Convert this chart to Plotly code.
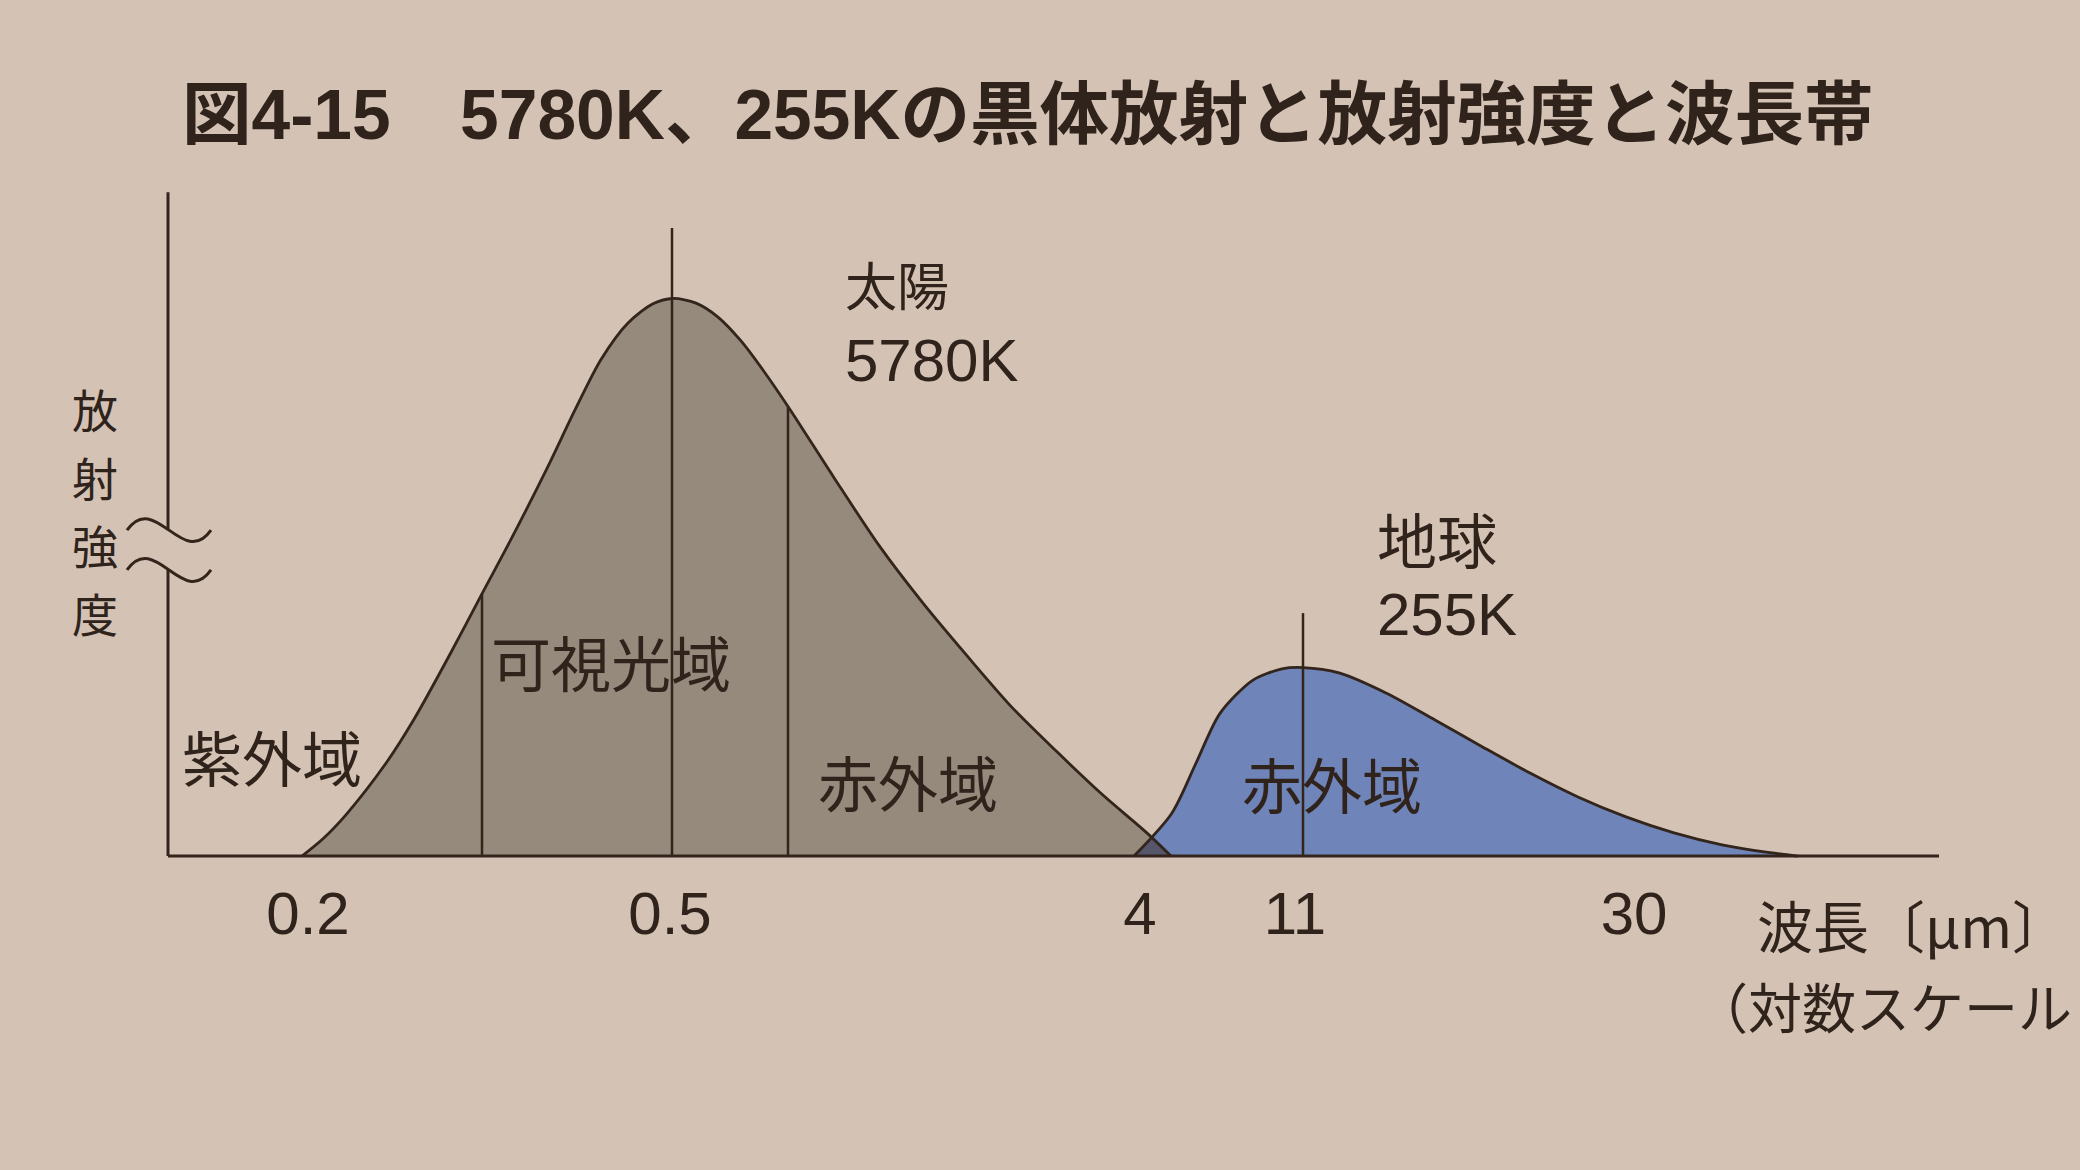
import numpy as np
import plotly.graph_objects as go

# ---- data (schematic, non-linear log wavelength axis; position units) ----
tick_pos = [14.0, 50.2, 97.2, 112.7, 146.6]
tick_text = ["0.2", "0.5", "4", "11", "30"]

# Sun (5780 K) black-body curve, relative radiation intensity
sun_x = [13.4, 15.5, 17.9, 21.9, 24.6, 28.2, 31.5, 34.4, 38.0, 40.7, 43.3, 46.0,
         48.5, 50.5, 52.8, 55.0, 57.3, 59.6, 62.1, 66.6, 71.1, 75.5, 80.0, 84.4,
         88.9, 93.4, 97.8, 100.3]
sun_y = [0.0, 2.6, 6.4, 14.2, 20.6, 30.4, 39.8, 48.0, 58.7, 67.2, 74.8, 80.3,
         83.2, 84.0, 83.3, 81.2, 77.6, 73.0, 67.5, 57.0, 46.8, 38.1, 30.0, 22.4,
         15.7, 9.3, 3.6, 0.0]

# Earth (255 K) black-body curve
earth_x = [96.6, 100.4, 102.8, 105.2, 108.5, 111.4, 113.5, 117.1, 121.9, 126.7,
           131.5, 136.2, 141.0, 145.8, 150.6, 155.4, 160.2, 163.0]
earth_y = [0.0, 6.5, 14.0, 21.5, 26.5, 28.2, 28.4, 27.6, 24.5, 20.5,
           16.4, 12.5, 8.9, 5.9, 3.5, 1.7, 0.5, 0.0]

# band boundaries inside the solar curve (UV | visible | IR)
band_edges = [31.4, 62.0]
# peak-wavelength marker lines: position and top
peak_pos = [50.4, 113.5]
peak_top = [94.6, 36.6]

axis_end = 177.1
break_levels = [43.1, 49.1]

# ---- style ----
BG = "#d4c3b4"
SUN_FILL = "#968a7d"
EARTH_FILL = "#6f84b8"
OVERLAP_FILL = "#55566a"
INK = "#33251c"
TXT = "#2f231c"
LAT = "Liberation Sans, Noto Sans CJK JP, sans-serif"
CJK = "Noto Sans CJK JP, sans-serif"

fig = go.Figure()

fig.add_trace(go.Scatter(x=sun_x, y=sun_y, mode="lines", fill="tozeroy",
                         fillcolor=SUN_FILL, line=dict(width=0, shape="spline", smoothing=0.8),
                         hoverinfo="skip", showlegend=False))
fig.add_trace(go.Scatter(x=earth_x, y=earth_y, mode="lines", fill="tozeroy",
                         fillcolor=EARTH_FILL, line=dict(width=0, shape="spline", smoothing=0.8),
                         hoverinfo="skip", showlegend=False))

# overlap of the two curves
gx = np.linspace(earth_x[0], sun_x[-1], 40)
gy = np.minimum(np.interp(gx, sun_x, sun_y), np.interp(gx, earth_x, earth_y))
fig.add_trace(go.Scatter(x=list(gx) + list(gx[::-1]), y=list(gy) + [0] * len(gx),
                         mode="lines", fill="toself", fillcolor=OVERLAP_FILL,
                         line=dict(width=0), hoverinfo="skip", showlegend=False))

# outlines
for xs, ys in [(sun_x, sun_y), (earth_x, earth_y)]:
    fig.add_trace(go.Scatter(x=xs, y=ys, mode="lines",
                             line=dict(color=INK, width=2.8, shape="spline", smoothing=0.8),
                             hoverinfo="skip", showlegend=False))

# band boundary lines (up to the solar curve)
for e in band_edges:
    top = float(np.interp(e, sun_x, sun_y))
    fig.add_trace(go.Scatter(x=[e, e], y=[0, top], mode="lines",
                             line=dict(color=INK, width=2.5),
                             hoverinfo="skip", showlegend=False))
# peak marker lines
for p, t in zip(peak_pos, peak_top):
    fig.add_trace(go.Scatter(x=[p, p], y=[0, t], mode="lines",
                             line=dict(color=INK, width=2.5),
                             hoverinfo="skip", showlegend=False))

# axes lines (with break on the intensity axis)
shapes = [
    dict(type="line", xref="x", yref="y", x0=0, x1=axis_end, y0=0, y1=0,
         line=dict(color=INK, width=3)),
    dict(type="line", xref="x", yref="y", x0=0, x1=0, y0=0, y1=break_levels[0],
         line=dict(color=INK, width=3)),
    dict(type="line", xref="x", yref="y", x0=0, x1=0, y0=break_levels[1], y1=100,
         line=dict(color=INK, width=3)),
]
for c in break_levels:
    x0, x1, h = -4.1, 4.3, 6.0
    w = x1 - x0
    path = (f"M {x0},{c} C {x0 + w/3},{c + h} {x0 + 2*w/3},{c - h} {x1},{c}")
    shapes.append(dict(type="path", xref="x", yref="y", path=path,
                       line=dict(color=INK, width=3)))

annotations = []
def label(text, x, y, size=60, anchor="center", family=CJK, ref=("x", "y")):
    annotations.append(dict(text=text, x=x, y=y, xref=ref[0], yref=ref[1], showarrow=False,
                            xanchor=anchor, yanchor="middle",
                            font=dict(family=family, size=size, color=TXT)))

label("太陽", 67.5, 86.2, size=52, anchor="left")
label("5780K", 67.5, 74.7, anchor="left", family=LAT)
label("地球", 120.7, 48.0, anchor="left")
label("255K", 120.7, 36.4, anchor="left", family=LAT)
label("紫外域", 10.4, 15.1)
label("可視光域", 44.25, 29.5)
label("赤外域", 73.95, 11.4)
label("赤外域", 116.4, 11.1)

# vertical axis title: characters stacked top to bottom (pixel centres -> paper)
for i, ch in enumerate("放射強度"):
    cy = 408 + 68 * i
    label(ch, (95 - 88) / 1855, (866 - cy) / 687, size=46, ref=("paper", "paper"))

# wavelength axis title (outside plot area -> paper coordinates)
label("波長〔μm〕", (1755 - 88) / 1855, (866 - 924) / 687, size=56, anchor="left",
      ref=("paper", "paper"))
label("（対数スケール", (1692 - 88) / 1855, (866 - 1005) / 687, size=54, anchor="left",
      ref=("paper", "paper"))

fig.update_layout(
    width=2080, height=1170,
    paper_bgcolor=BG, plot_bgcolor=BG,
    margin=dict(l=88, r=137, t=179, b=304, pad=0),
    title=dict(text="図4-15　5780K、255Kの黒体放射と放射強度と波長帯",
               x=182/2080, xref="container", xanchor="left",
               y=1 - 115/1170, yref="container", yanchor="middle",
               font=dict(family=LAT, size=69.5, color=TXT, weight="bold")),
    xaxis=dict(range=[-8, 177.5], showgrid=False, zeroline=False, showline=False,
               tickvals=tick_pos, ticktext=tick_text, ticks="",
               tickfont=dict(family=LAT, size=60, color=TXT), ticklabelstandoff=7,
               fixedrange=True),
    yaxis=dict(range=[-1.5, 102], showgrid=False, zeroline=False, showline=False,
               showticklabels=False, ticks="", fixedrange=True),
    shapes=shapes, annotations=annotations,
    showlegend=False,
)

fig.write_html("out.html")
